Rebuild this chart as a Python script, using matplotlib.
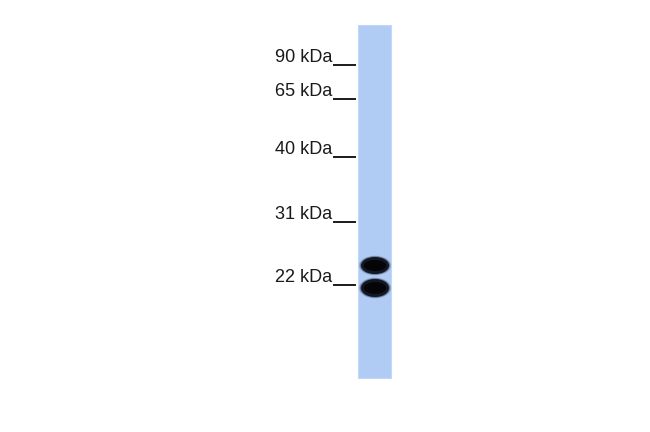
import matplotlib.pyplot as plt
from matplotlib.patches import Rectangle, Ellipse

# marker ladder (label, y of tick in pixels)
marker_labels = ['90 kDa', '65 kDa', '40 kDa', '31 kDa', '22 kDa']
marker_y = [65, 99, 157, 222, 285]

# lane extent (pixels)
lane_x = [358, 391]
lane_y = [25, 378]

# detected bands: centre y, height, width
band_y = [265.5, 288]
band_h = [17, 18]
band_w = [28, 28]

plt.rcParams['font.family'] = ['Liberation Sans', 'DejaVu Sans']

fig = plt.figure(figsize=(6.5, 4.32), dpi=100)
ax = fig.add_axes([0, 0, 1, 1])
ax.set_xlim(0, 650)
ax.set_ylim(432, 0)
ax.axis('off')

# lane
ax.add_patch(Rectangle((lane_x[0], lane_y[0]), lane_x[1] - lane_x[0], lane_y[1] - lane_y[0],
                       facecolor='#b0ccf4', edgecolor='#c3d8f6', linewidth=0.8))

# bands with a soft halo
cx = (lane_x[0] + lane_x[1]) / 2 + 0.5
for y, h, w in zip(band_y, band_h, band_w):
    for k, a in [(1.15, 0.2), (1.07, 0.4), (1.0, 1.0)]:
        ax.add_patch(Ellipse((cx, y), w * k, h * k, facecolor='#141826', edgecolor='none', alpha=a))
    ax.add_patch(Ellipse((cx, y), w * 0.8, h * 0.65, facecolor='#050508', edgecolor='none'))

# marker labels and ticks
for lab, y in zip(marker_labels, marker_y):
    ax.text(332.5, y - 3, lab, ha='right', va='baseline', fontsize=13, color='#1a1a1a')
    ax.plot([334, 355], [y, y], color='#1a1a1a', linewidth=1.4)

plt.savefig('out.png', dpi=100)
